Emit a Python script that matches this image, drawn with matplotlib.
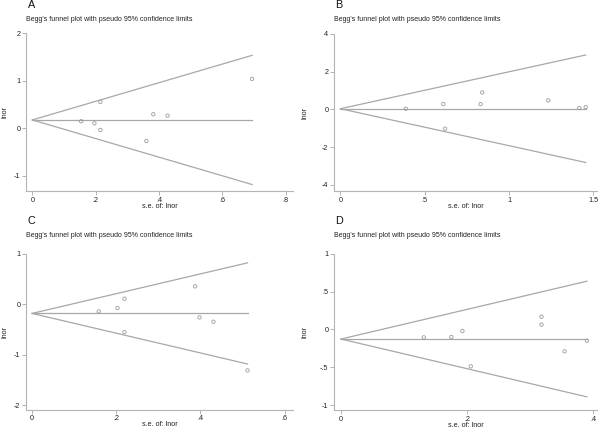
import matplotlib
matplotlib.use("Agg")
import matplotlib.pyplot as plt
import numpy as np

plt.rcParams['font.family'] = ['Liberation Sans', 'DejaVu Sans']

# ---- data ----
se_A = [0.154, 0.196, 0.215, 0.215, 0.360, 0.382, 0.427, 0.694]
lnor_A = [0.148, 0.105, 0.555, -0.035, -0.267, 0.295, 0.267, 1.04]
pooled_A = 0.176

se_B = [0.388, 0.611, 0.621, 0.831, 0.841, 1.233, 1.417, 1.455]
lnor_B = [0.035, 0.28, -1.02, 0.28, 0.90, 0.476, 0.07, 0.12]
pooled_B = 0.035

se_C = [0.1585, 0.203, 0.2196, 0.2196, 0.3876, 0.398, 0.431, 0.512]
lnor_C = [-0.139, -0.073, 0.113, -0.55, 0.358, -0.258, -0.344, -1.31]
pooled_C = -0.179

se_D = [0.1314, 0.175, 0.1926, 0.2058, 0.318, 0.318, 0.3546, 0.390]
lnor_D = [-0.106, -0.101, -0.022, -0.489, 0.167, 0.062, -0.291, -0.15]
pooled_D = -0.128

xticks_A = [0, 0.2, 0.4, 0.6, 0.8]; xtl_A = ['0', '.2', '.4', '.6', '.8']
yticks_A = [-1, 0, 1, 2]; ytl_A = ['-1', '0', '1', '2']
xticks_B = [0, 0.5, 1, 1.5]; xtl_B = ['0', '.5', '1', '1.5']
yticks_B = [-4, -2, 0, 2, 4]; ytl_B = ['-4', '-2', '0', '2', '4']
xticks_C = [0, 0.2, 0.4, 0.6]; xtl_C = ['0', '.2', '.4', '.6']
yticks_C = [-2, -1, 0, 1]; ytl_C = ['-2', '-1', '0', '1']
xticks_D = [0, 0.2, 0.4]; xtl_D = ['0', '.2', '.4']
yticks_D = [-1, -0.5, 0, 0.5, 1]; ytl_D = ['-1', '-.5', '0', '.5', '1']

title = "Begg's funnel plot with pseudo 95% confidence limits"

W, H = 600, 432
fig = plt.figure(figsize=(6, 4.32), dpi=100)
fig.patch.set_facecolor('white')

line_col = '#a8a8a8'
axis_col = '#b4b4b4'
pt_col = '#9a9a9a'
txt_col = '#222222'

def px_rect(x0, y0, x1, y1):
    return [x0 / W, 1 - y1 / H, (x1 - x0) / W, (y1 - y0) / H]

panels = [
    ('A', se_A, lnor_A, pooled_A, xticks_A, xtl_A, yticks_A, ytl_A,
     (-0.02, 0.823), (-1.32, 2.0), (26, 33.3, 293, 191), 0, 0),
    ('B', se_B, lnor_B, pooled_B, xticks_B, xtl_B, yticks_B, ytl_B,
     (-0.038, 1.522), (-4.33, 4.0), (334, 34, 597, 191), 300, 0),
    ('C', se_C, lnor_C, pooled_C, xticks_C, xtl_C, yticks_C, ytl_C,
     (-0.0143, 0.62), (-2.085, 1.0), (26, 254, 293, 409.5), 0, 216),
    ('D', se_D, lnor_D, pooled_D, xticks_D, xtl_D, yticks_D, ytl_D,
     (-0.011, 0.406), (-1.066, 1.0), (334, 253.7, 597, 410), 300, 216),
]

for (letter, se, lnor, pooled, xt, xtl, yt, ytl, xl, yl, rect, ox, oy) in panels:
    ax = fig.add_axes(px_rect(*rect))
    se = np.array(se); lnor = np.array(lnor)
    smax = se.max()
    xs = np.array([0, smax])
    ax.plot(xs, pooled + 1.96 * xs, color=line_col, lw=0.9)
    ax.plot(xs, pooled - 1.96 * xs, color=line_col, lw=0.9)
    ax.plot(xs, [pooled, pooled], color=line_col, lw=0.9)
    ax.scatter(se, lnor, s=6, facecolors='none', edgecolors=pt_col, linewidths=0.6, zorder=3)
    ax.set_xlim(*xl); ax.set_ylim(*yl)
    ax.set_xticks(xt); ax.set_xticklabels(xtl)
    ax.set_yticks(yt); ax.set_yticklabels(ytl)
    for s in ['top', 'right']:
        ax.spines[s].set_visible(False)
    for s in ['left', 'bottom']:
        ax.spines[s].set_color(axis_col)
        ax.spines[s].set_linewidth(0.8)
    ax.tick_params(direction='out', length=2.8, width=0.7, color=axis_col,
                   labelsize=5.2, labelcolor=txt_col, pad=1.2)
    ax.set_xlabel('s.e. of: lnor', fontsize=5.2, color=txt_col)
    ax.set_ylabel('lnor', fontsize=5.2, color=txt_col)
    w = rect[2] - rect[0]
    h = rect[3] - rect[1]
    ax.yaxis.set_label_coords((ox + 5 - rect[0]) / w, 0.5)
    ax.xaxis.set_label_coords(0.5, -(15.5) / h)
    ax.xaxis.label.set_va('center')
    ax.yaxis.label.set_va('center')
    ax.patch.set_alpha(0)
    fig.text((rect[0] + 1.5) / W, 1 - (oy + 5.5) / H, letter, fontsize=7.8,
             ha='left', va='center', color='#111111')
    fig.text((rect[0]) / W, 1 - (oy + 19.5) / H, title, fontsize=5.0,
             ha='left', va='center', color=txt_col)

fig.savefig('out.png', dpi=100, facecolor='white')
